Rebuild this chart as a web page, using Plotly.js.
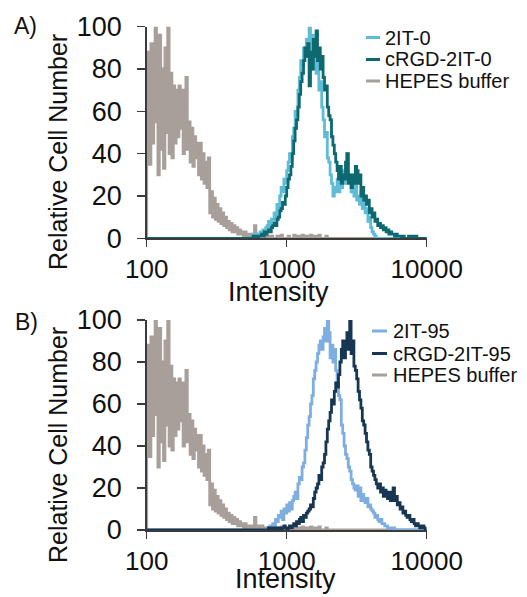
<!DOCTYPE html>
<html><head><meta charset="utf-8">
<script src="https://cdn.plot.ly/plotly-3.0.1.min.js"></script>
<style>html,body{margin:0;padding:0;background:#fff}#chart{width:527px;height:597px}</style>
</head><body><div id="chart"></div>
<script>
// ---- data: histogram counts per log channel (0.01 decade per channel) ----
const binStep = 0.01;
const xTickVals = [100, 1000, 10000];
const xTickText = ['100', '1000', '10000'];
const yTickVals = [0, 20, 40, 60, 80, 100];

const hepesStart = 2.00;
const hepesCounts = [
  40, 88, 35, 92, 45, 55, 100, 85, 30, 96,
  42, 80, 33, 90, 50, 100, 40, 78, 38, 72,
  45, 70, 48, 72, 52, 70, 40, 65, 76, 42,
  55, 36, 52, 34, 48, 38, 45, 30, 45, 28,
  40, 26, 36, 24, 38, 12, 22, 10, 19, 9,
  16, 8, 14, 7, 12, 6, 10, 5, 8, 4,
  7, 3, 6, 3, 5, 2, 4, 2, 3, 1,
  3, 1, 2, 1, 2, 1, 1, 6, 1, 2,
  1, 1, 2, 1, 1, 0, 1, 0, 0, 1,
  0, 0, 0, 1, 0, 0, 1.5, 0, 0, 0,
  0, 1, 0, 0, 0, 1.5, 0, 0, 1, 0,
  0, 1.5, 0, 0, 1, 0, 0, 1.5, 0, 0,
  1, 0, 0, 1.5, 0, 0, 0, 0, 1, 0,
  0, 0, 0, 0
];

const it0Start = 2.75;
const it0Counts = [
  1, 0, 2, 1, 1, 2, 3, 2, 4, 3, 5, 6, 8, 5, 9, 8,
  12, 10, 16, 14, 20, 24, 22, 28, 26, 32, 36, 40, 38, 48, 52,
  60, 58, 70, 76, 84, 82, 90, 86, 94, 88, 100, 84, 96, 80, 92,
  78, 86, 70, 74, 62, 56, 48, 50, 38, 36, 30, 26, 20, 24, 22,
  28, 22, 30, 24, 32, 26, 34, 40, 28, 30, 22, 28, 20, 26, 18,
  20, 16, 22, 14, 18, 12, 14, 8, 10, 5, 3, 2, 1, 0, 0
];

const rgd0Start = 2.75;
const rgd0Counts = [
  0, 1, 0, 1, 0, 1, 1, 2, 1, 3, 2, 3, 4, 3, 5, 6,
  7, 6, 9, 10, 13, 14, 17, 16, 20, 24, 28, 30, 34, 40, 46,
  52, 56, 62, 68, 74, 78, 84, 90, 86, 92, 72, 88, 80, 94, 86,
  98, 84, 90, 80, 86, 76, 70, 72, 62, 58, 56, 48, 44, 40, 36,
  32, 28, 34, 26, 30, 28, 36, 40, 26, 30, 24, 30, 26, 34, 32,
  26, 30, 20, 24, 18, 20, 16, 18, 12, 14, 10, 12, 8, 9, 6,
  7, 5, 6, 4, 5, 3, 4, 2, 3, 2, 2, 1, 2, 1, 1,
  1, 0, 1, 0, 0, 0, 1, 0, 0, 1, 0, 1, 0, 0, 0
];

const it95Start = 2.85;
const it95Counts = [
  0, 1, 0, 2, 1, 3, 2, 5, 4, 7, 6, 9, 5, 10, 8, 12,
  9, 13, 10, 14, 16, 18, 15, 22, 25, 24, 30, 32, 38, 44, 50,
  54, 60, 64, 72, 76, 80, 84, 88, 90, 86, 92, 96, 90, 100, 94,
  82, 88, 80, 86, 76, 70, 64, 62, 50, 46, 40, 36, 34, 30, 28,
  24, 22, 20, 19, 21, 16, 20, 14, 17, 15, 13, 15, 11, 12, 10,
  9, 8, 6, 7, 5, 4, 5, 3, 3, 2, 2, 1, 1, 1, 0, 1, 0, 0, 0, 0
];

const rgd95Start = 2.85;
const rgd95Counts = [
  0, 0, 1, 0, 0, 1, 0, 1, 0, 1, 1, 0, 1, 2, 1, 0,
  1, 2, 1, 2, 3, 2, 4, 3, 5, 6, 4, 7, 6, 8, 9,
  10, 12, 11, 15, 18, 20, 22, 26, 24, 30, 32, 36, 42, 48, 52,
  56, 62, 60, 66, 70, 68, 74, 80, 86, 90, 82, 88, 94, 86, 100,
  84, 90, 78, 76, 72, 66, 62, 58, 52, 50, 46, 42, 38, 36, 30,
  28, 26, 24, 22, 20, 22, 18, 20, 16, 19, 17, 15, 18, 14, 16,
  20, 14, 16, 12, 13, 10, 11, 8, 9, 7, 6, 7, 5, 4, 5,
  3, 2, 3, 2, 1, 1, 2, 1, 0, 0
];

const namesA = ['2IT-0', 'cRGD-2IT-0', 'HEPES buffer'];
const namesB = ['2IT-95', 'cRGD-2IT-95', 'HEPES buffer'];
const colorsA = ['#5fbcd6', '#0d6870', '#a89f9a'];
const colorsB = ['#7eaee0', '#163654', '#a89f9a'];

// ---- build ----
function histTrace(start, counts, xa, ya, color) {
  const x = [100], y = [0];
  counts.forEach((c, i) => { x.push(Math.pow(10, start + i * binStep)); y.push(c); });
  x.push(10000); y.push(0);
  return {type: 'scatter', mode: 'lines', x: x, y: y, xaxis: xa, yaxis: ya,
          line: {color: color, width: 2.8, shape: 'hv'}, hoverinfo: 'skip', showlegend: false};
}

const data = [
  histTrace(hepesStart, hepesCounts, 'x', 'y', colorsA[2]),
  histTrace(it0Start, it0Counts, 'x', 'y', colorsA[0]),
  histTrace(rgd0Start, rgd0Counts, 'x', 'y', colorsA[1]),
  histTrace(hepesStart, hepesCounts, 'x2', 'y2', colorsB[2]),
  histTrace(it95Start, it95Counts, 'x2', 'y2', colorsB[0]),
  histTrace(rgd95Start, rgd95Counts, 'x2', 'y2', colorsB[1])
];

const W = 527, H = 597;
const fx = px => px / W;
const fy = py => 1 - py / H;
const AX = '#3a3a3a';
const FONT = 'Liberation Sans, Arial, sans-serif';

function xAxis(anchor) {
  return {domain: [fx(146.7), fx(426.7)], anchor: anchor, type: 'log', range: [2, 4],
    tickmode: 'array', tickvals: xTickVals, ticktext: xTickText,
    ticks: 'outside', ticklen: 7, tickwidth: 1.5, tickcolor: AX,
    showline: true, linecolor: AX, linewidth: 1.5, showgrid: false, zeroline: false,
    tickfont: {family: FONT, size: 26, color: '#111'}, fixedrange: true};
}
function yAxis(anchor, top, bottom) {
  return {domain: [fy(bottom), fy(top)], anchor: anchor, range: [0, 100],
    tickmode: 'array', tickvals: yTickVals,
    ticks: 'outside', ticklen: 8, tickwidth: 1.5, tickcolor: AX,
    showline: true, linecolor: AX, linewidth: 1.5, showgrid: false, zeroline: false,
    ticklabelstandoff: 10,
    tickfont: {family: FONT, size: 27, color: '#111'}, fixedrange: true};
}

const annotations = [];
const shapes = [];
function txt(text, px, py, size, opts) {
  annotations.push(Object.assign({text: text, xref: 'paper', yref: 'paper', x: fx(px), y: fy(py),
    showarrow: false, xanchor: 'center', yanchor: 'middle',
    font: {family: FONT, size: size, color: '#111'}}, opts || {}));
}
// panel labels
txt('A)', 12, 26, 23, {xanchor: 'left'});
txt('B)', 13, 322, 23, {xanchor: 'left'});
// axis titles
txt('Intensity', 278.5, 291.5, 27);
txt('Intensity', 285, 578.5, 27);
txt('Relative Cell Number', 58, 152, 25, {textangle: -90});
txt('Relative Cell Number', 58, 445, 25, {textangle: -90});
// legends
function legend(names, colors, lx0, lx1, tx, ys) {
  names.forEach((n, i) => {
    shapes.push({type: 'line', xref: 'paper', yref: 'paper', x0: fx(lx0), x1: fx(lx1), y0: fy(ys[i]), y1: fy(ys[i]),
      line: {color: colors[i], width: 3}});
    txt(n, tx, ys[i], 20, {xanchor: 'left'});
  });
}
legend(namesA, colorsA, 366, 380, 383, [37.5, 59.5, 81]);
legend(namesB, colorsB, 372, 387, 391, [331, 353.5, 375]);

const layout = {
  width: W, height: H, margin: {l: 0, r: 0, t: 0, b: 0},
  paper_bgcolor: '#fff', plot_bgcolor: 'rgba(0,0,0,0)', showlegend: false,
  font: {family: FONT, color: '#111'},
  xaxis: xAxis('y'), yaxis: yAxis('x', 26.7, 238.3),
  xaxis2: xAxis('y2'), yaxis2: yAxis('x2', 320, 530),
  annotations: annotations, shapes: shapes
};

Plotly.newPlot('chart', data, layout, {staticPlot: true, displayModeBar: false});
</script>
</body></html>
